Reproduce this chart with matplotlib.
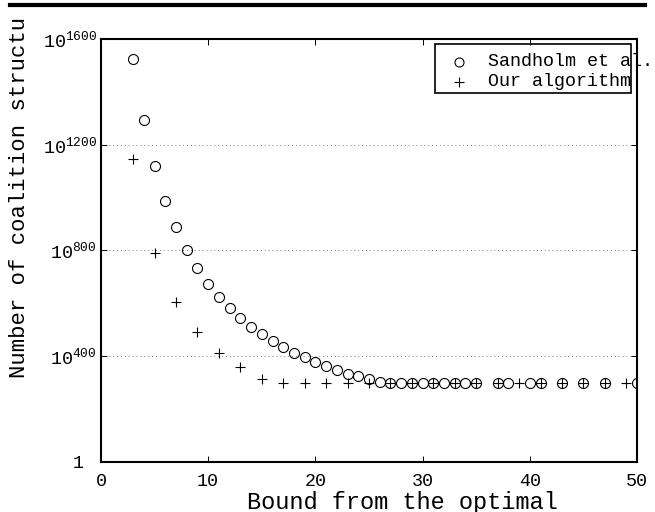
import matplotlib
matplotlib.use("Agg")
import matplotlib.pyplot as plt
from matplotlib.patches import Rectangle
from matplotlib.lines import Line2D
from matplotlib.transforms import Bbox, ScaledTranslation

plt.rcParams['font.family'] = 'Liberation Mono'
plt.rcParams['mathtext.fontset'] = 'custom'
plt.rcParams['mathtext.rm'] = 'Liberation Mono'

# exponents (log10) of the number of coalition structures
sand_x = list(range(3, 36)) + [37, 38, 40, 41, 43, 45, 47, 50]
sand_y = [1523, 1293, 1119, 988, 888, 802, 732, 673, 625, 581, 543, 512,
          484, 458, 434, 414, 398, 378, 363, 348, 333, 325, 313, 304,
          300, 300, 300, 300, 300, 300, 300, 300, 300,
          300, 300, 300, 300, 300, 300, 300, 300]
ours_x = list(range(3, 36, 2)) + [37, 39, 41, 43, 45, 47, 49]
ours_y = [1145, 792, 606, 493, 411, 358, 315, 300, 300, 300, 300, 300,
          300, 300, 300, 300, 300, 300, 300, 300, 300, 300, 300, 300]

yticks = [0, 400, 800, 1200, 1600]
ytick_labels = ['1', r'$10^{400}$', r'$10^{800}$', r'$10^{1200}$', r'$10^{1600}$']

W, H = 655, 512
fig = plt.figure(figsize=(W / 100, H / 100), dpi=100)
ax = fig.add_axes([101 / W, 1 - 462 / H, 536 / W, 423 / H])

ax.plot(sand_x, sand_y, 'o', mfc='none', mec='black', ms=7.2, mew=0.8)
ax.plot(ours_x, ours_y, '+', color='black', ms=7, mew=0.8)

ax.set_xlim(0, 50)
ax.set_ylim(0, 1600)
ax.set_xticks([0, 10, 20, 30, 40, 50])
ax.set_yticks(yticks)
ax.set_yticklabels(ytick_labels)
ax.tick_params(direction='in', top=True, right=True, length=4, width=0.7,
               labelsize=13.2)
ax.tick_params(axis='x', pad=8)
ax.tick_params(axis='y', pad=3)
ax.yaxis.grid(True, linestyle=(0, (1, 3)), color='gray', linewidth=0.7)
for s in ax.spines.values():
    s.set_linewidth(1.5)

# the plain "1" sits further from the axis in the original
lbl = ax.get_yticklabels()[0]
lbl.set_transform(lbl.get_transform() + ScaledTranslation(-13 / 100, 0, fig.dpi_scale_trans))

# labels placed like the original (off-centre, y label cut under the top bar)
fig.text(402 / W, 1 - 502 / H, 'Bound from the optimal', ha='center',
         va='center', fontsize=17)
yl = fig.text(20 / W, 1 - 378 / H, 'Number of coalition structures', rotation=90,
              ha='center', va='bottom', fontsize=16)
yl.set_clip_box(Bbox.from_extents(0, 0, W, H - 17))
yl.set_clip_on(True)

# hand-made legend box, narrower than its text
fig.add_artist(Rectangle((435 / W, 1 - 93 / H), 196 / W, 49 / H,
                         transform=fig.transFigure, fill=False, lw=1.2,
                         ec='black'))
fig.add_artist(Line2D([459 / W], [1 - 62 / H], marker='o', mfc='none',
                      mec='black', ms=6.5, mew=0.8, transform=fig.transFigure))
fig.add_artist(Line2D([459 / W], [1 - 82 / H], marker='+', color='black',
                      ms=7, mew=0.8, transform=fig.transFigure))
fig.text(488 / W, 1 - 62 / H, 'Sandholm et al.', va='center', fontsize=13.2)
fig.text(488 / W, 1 - 82 / H, 'Our algorithm', va='center', fontsize=13.2)

# black bar across the top
fig.add_artist(Line2D([10 / W, 645 / W], [1 - 5 / H, 1 - 5 / H], color='black',
                      lw=3, transform=fig.transFigure))

fig.savefig('out.png', dpi=100)
